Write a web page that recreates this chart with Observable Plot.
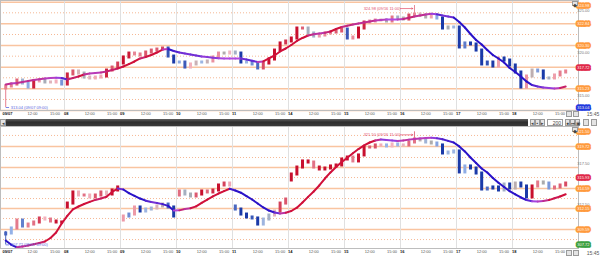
<!DOCTYPE html>
<html><head><meta charset="utf-8">
<script src="https://cdn.jsdelivr.net/npm/d3@7"></script>
<script src="https://cdn.jsdelivr.net/npm/@observablehq/plot@0.6"></script>
<style>
html,body{margin:0;padding:0;background:#fff;width:600px;height:257px;overflow:hidden;font-family:"Liberation Sans",Arial,sans-serif}
#wrap{position:relative;width:600px;height:257px}
.pane{position:absolute;left:0}
#top{top:0}#bot{top:126px}
#scroll{position:absolute;top:118px;left:0;width:600px;height:8px}
.ui{position:absolute;font-size:5px;line-height:6px;color:#444;text-align:center;box-sizing:border-box}
.btn{background:#e4e4e4;border:1px solid #9a9a9a}
</style></head><body>
<div id="wrap">
  <div id="top" class="pane"></div>
  <div id="scroll">
    <div class="ui btn" style="left:0;top:1px;width:6px;height:7px;">&#9666;</div>
    <div class="ui" style="left:6px;top:1px;width:522px;height:7px;background:linear-gradient(#606060,#2e2e2e 45%,#3a3a3a)"></div>
    <div class="ui btn" style="left:530px;top:1px;width:5px;height:7px;">&#9666;</div>
    <div class="ui btn" style="left:535px;top:1px;width:5px;height:7px;">&#9642;</div>
    <div class="ui btn" style="left:540px;top:1px;width:5px;height:7px;">&#9656;</div>
    <div class="ui" style="left:547px;top:1px;width:16px;height:7px;background:#fff;border:1px solid #999;text-align:right;padding-right:1px">200</div>
    <div class="ui btn" style="left:565px;top:1px;width:5px;height:7px;">&#9679;</div>
    <div class="ui btn" style="left:570px;top:1px;width:5px;height:7px;">&#9197;</div>
    <div class="ui btn" style="left:575px;top:1px;width:5px;height:7px;">&#9673;</div>
    <div class="ui btn" style="left:583px;top:1px;width:6px;height:7px;"></div>
    <div class="ui btn" style="left:591px;top:1px;width:6px;height:7px;"></div>
  </div>
  <div id="bot" class="pane"></div>
  <div class="ui btn" style="left:572px;top:1px;width:6px;height:5px;">&#9670;</div>
  <div class="ui btn" style="left:572px;top:127px;width:6px;height:5px;">&#9670;</div>
  <div class="ui btn" style="left:566px;top:111px;width:6px;height:6px;"></div>
  <div class="ui btn" style="left:573px;top:111px;width:6px;height:6px;"></div>
  <div class="ui" style="left:586px;top:111px;width:14px;height:6px;color:#555">15:45</div>
  <div class="ui btn" style="left:566px;top:250px;width:6px;height:6px;"></div>
  <div class="ui btn" style="left:573px;top:250px;width:6px;height:6px;"></div>
  <div class="ui" style="left:586px;top:250px;width:14px;height:6px;color:#555">15:45</div>
</div>
<script>
// ---------- data ----------
const dayStarts = [0, 11, 21, 31, 41, 51, 61, 71, 81, 91];
const dayLabels = ["09/07", "08", "09", "10", "11", "14", "15", "16", "17", "18"];
const timeTickPos = [5.3, 9.3, 15.5, 19.5, 25.5, 29.5, 35.5, 39.5, 45.5, 49.5, 55.5, 59.5, 65.5, 69.5, 75.5, 79.5, 85.5, 89.5, 95.5, 99.5];
const timeTickLabels = ["12:00", "15:00", "12:00", "15:00", "12:00", "15:00", "12:00", "15:00", "12:00", "15:00", "12:00", "15:00", "12:00", "15:00", "12:00", "15:00", "12:00", "15:00", "12:00", "15:00"];

const topClose = [315.50, 315.73, 316.20, 315.85, 315.38, 316.09, 316.20, 315.97, 315.97, 316.09, 315.73,
 316.91, 317.26, 317.02, 316.55, 316.44, 316.55, 316.67, 317.37, 317.72, 318.19,
 318.90, 319.36, 319.25, 319.13, 319.48, 319.71, 319.83, 319.95, 319.01, 318.31,
 318.31, 317.72, 318.08, 318.31, 318.31, 318.43, 318.90, 319.36, 319.36, 319.48,
 319.36, 318.31, 318.31, 318.08, 317.61, 318.19, 318.66, 319.71, 320.54, 320.77,
 321.12, 322.29, 322.29, 321.71, 321.35, 321.47, 321.71, 321.82, 321.94, 322.17,
 321.12, 321.24, 322.29, 322.99, 323.11, 323.23, 323.23, 323.11, 323.58, 323.46,
 323.34, 323.81, 323.93, 323.81, 323.58, 323.70, 323.46, 322.29, 322.41, 322.41,
 320.07, 320.54, 320.42, 319.71, 318.08, 318.31, 317.84, 318.78, 318.54, 317.96,
 317.14, 315.38, 316.67, 317.37, 317.26, 316.44, 316.44, 316.79, 317.14, 317.26];
const topMA = [315.73, 315.85, 315.91, 316.03, 316.14, 316.26, 316.35, 316.44, 316.49, 316.53, 316.49,
 316.32, 316.49, 316.67, 316.91, 317.02, 317.08, 317.14, 317.26, 317.43, 317.61,
 317.84, 318.13, 318.43, 318.78, 318.95, 319.19, 319.48, 319.83, 319.89, 319.66,
 319.48, 319.36, 319.25, 319.13, 319.01, 318.95, 318.87, 318.80, 318.78, 318.78,
 318.78, 318.78, 318.66, 318.51, 318.37, 318.43, 318.78, 319.13, 319.60, 319.95,
 320.36, 320.83, 321.18, 321.47, 321.61, 321.71, 321.79, 321.94, 322.23, 322.47,
 322.61, 322.76, 322.88, 322.99, 323.11, 323.23, 323.29, 323.34, 323.34, 323.34,
 323.40, 323.54, 323.70, 323.81, 323.93, 324.01, 323.97, 323.81, 323.70, 323.58,
 323.05, 322.41, 321.65, 320.94, 320.42, 319.77, 319.19, 318.78, 318.31, 317.67,
 317.20, 316.67, 316.09, 315.67, 315.50, 315.38, 315.32, 315.27, 315.32, 315.50];
const topGapOpens = [[0, 315.27]];
const topWicks = [[0, 313.04, 315.73], [73, 323.81, 324.98]];
const topSolid = [325.37, 322.84, 320.30, 317.76, 315.23, 312.69];
const topDotted = [324.13, 321.59, 319.05, 316.52, 313.98];
const topAxisTicks = [325, 320, 315];
const topBoxes = [324.98, 322.84, 320.30, 317.72, 315.23, 313.04];
const topBoxKinds = ["level", "level", "level", "last", "level", "low"];
const topHigh = {i: 73, p: 324.98, t: "09/16 11:00"};
const topLow = {i: 0, p: 313.04, t: "09/07 09:00"};

const botClose = [309.11, 309.72, 310.69, 309.96, 310.20, 310.45, 310.94, 310.81, 310.57, 310.45, 310.45,
 312.76, 314.11, 313.74, 313.74, 313.50, 313.74, 314.11, 313.86, 314.35, 314.72,
 311.18, 311.42, 312.28, 311.79, 312.03, 312.15, 312.40, 312.64, 312.28, 311.18,
 314.23, 313.86, 313.62, 313.86, 314.23, 314.11, 314.35, 314.96, 315.20, 314.96,
 312.03, 311.42, 311.06, 310.94, 310.20, 310.81, 311.30, 311.79, 312.76, 313.25,
 316.30, 317.15, 317.89, 317.76, 317.15, 316.91, 317.03, 317.28, 317.40, 318.13,
 318.37, 317.89, 318.62, 319.59, 319.59, 319.84, 319.84, 319.72, 319.96, 319.84,
 319.84, 320.20, 320.57, 320.45, 320.20, 320.08, 319.84, 318.86, 318.98, 319.11,
 316.55, 317.28, 317.03, 316.42, 314.47, 314.59, 314.72, 314.35, 315.08, 314.59,
 315.20, 314.84, 313.50, 314.84, 315.33, 315.20, 314.59, 314.72, 314.96, 315.20];
const botMA = [308.25, 307.73, 307.42, 307.52, 307.64, 307.79, 307.95, 308.13, 308.56, 309.23, 310.33,
 311.26, 312.06, 312.40, 312.70, 312.96, 313.20, 313.37, 313.58, 314.17, 314.59,
 314.47, 314.03, 313.69, 313.37, 313.11, 312.94, 312.83, 312.69, 312.48, 311.91,
 311.93, 312.09, 312.19, 312.42, 312.85, 313.25, 313.62, 313.98, 314.28, 314.56,
 314.35, 314.08, 313.67, 313.25, 312.76, 312.28, 311.91, 311.67, 311.54, 311.63,
 311.85, 312.25, 312.89, 313.57, 314.23, 314.96, 315.81, 316.55, 317.22, 317.83,
 318.33, 318.89, 319.40, 319.84, 320.20, 320.45, 320.57, 320.50, 320.45, 320.39,
 320.45, 320.55, 320.62, 320.69, 320.74, 320.79, 320.73, 320.59, 320.40, 320.20,
 319.72, 319.11, 318.37, 317.70, 317.03, 316.55, 315.87, 315.29, 314.78, 314.26,
 313.89, 313.50, 313.19, 313.03, 313.01, 313.06, 313.18, 313.41, 313.62, 313.89];
const botGapOpens = [[0, 308.99], [11, 312.28], [21, 310.69], [31, 313.74], [41, 312.40], [51, 315.57]];
const botWicks = [[0, 307.72, 309.35], [73, 320.45, 321.50]];
const botSolid = [319.72, 317.15, 314.59, 312.15, 309.59];
const botDotted = [321.06, 318.37, 315.93, 313.37, 310.94, 308.37];
const botAxisTicks = [317.5, 312.5];
const botBoxes = [321.50, 319.72, 315.93, 314.59, 312.15, 309.59, 307.72];
const botBoxKinds = ["level", "level", "last", "level", "level", "level", "low2"];
const botHigh = {i: 73, p: 321.50, t: "09/16 11:00"};
const botLow = {i: 0, p: 307.72, t: "09/07 09:00"};

// ---------- styling helpers ----------
const candleColor = d3.scaleLinear()
  .domain([-0.9, -0.2, -0.04, 0.12, 0.9])
  .range(["#1b3aa8", "#9ab6ea", "#ababab", "#f5b9c3", "#c8102e"])
  .clamp(true);
const maColor = d3.scaleLinear()
  .domain([-0.25, 0, 0.25])
  .range(["#2a12c8", "#b048e0", "#d0103a"])
  .clamp(true);
const boxColor = {level: "#ff9a3c", last: "#e0284a", low: "#2038e0", low2: "#3aa040"};
const FONT = "Liberation Sans, Arial, sans-serif";

function pane(cfg) {
  const gap = new Map(cfg.gapOpens);
  const rows = cfg.close.map((c, i) => {
    const o = gap.has(i) ? gap.get(i) : (i ? cfg.close[i - 1] : c);
    const s = i ? cfg.ma[i] - cfg.ma[i - 1] : cfg.ma[1] - cfg.ma[0];
    return {u: i + 0.5, o, c, col: candleColor(1.5 * s + 0.9 * (c - o))};
  });
  const wicks = cfg.wicks.map(([i, lo, hi]) => ({u: i + 0.5, lo, hi, col: rows[i].col}));
  const segs = cfg.ma.slice(1).map((m, k) => ({
    x1: k + 0.5, y1: cfg.ma[k], x2: k + 1.5, y2: m, col: maColor(m - cfg.ma[k])
  }));
  const days = dayStarts.map((u, k) => ({u, label: dayLabels[k]}));
  const times = timeTickPos.map((u, k) => ({u, label: timeTickLabels[k]}));
  const boxes = cfg.boxes.map((p, k) => ({p, col: boxColor[cfg.kinds[k]]}));
  return Plot.plot({
    width: 600, height: cfg.height,
    marginLeft: 0, marginRight: 22, marginTop: 0, marginBottom: cfg.height - cfg.frameH,
    style: {fontFamily: FONT, background: "transparent", overflow: "visible"},
    x: {domain: [-0.43, 102.79], axis: null},
    y: {domain: cfg.domain, axis: null},
    color: {type: "identity"},
    marks: [
      Plot.ruleY(cfg.dotted, {stroke: "#f6b894", strokeWidth: 1, strokeDasharray: "1,2"}),
      Plot.ruleY(cfg.solid, {stroke: "#f9c4a0", strokeWidth: 1.4}),
      Plot.ruleX(dayStarts.slice(1), {stroke: "#e0e0e0", strokeWidth: 1}),
      Plot.ruleX(wicks, {x: "u", y1: "lo", y2: "hi", stroke: "col", strokeWidth: 1}),
      Plot.ruleX(rows, {x: "u", y1: "o", y2: "c", stroke: "col", strokeWidth: 3, strokeLinecap: "square"}),
      Plot.link(segs, {x1: "x1", y1: "y1", x2: "x2", y2: "y2", stroke: "col", strokeWidth: 2, strokeLinecap: "round"}),
      Plot.text([cfg.high], {x: d => d.i + 0.5, y: "p", text: d => `${d.p.toFixed(2)} (${d.t})`,
        textAnchor: "end", dx: -14, dy: 3, fill: "#e4506a", fontSize: 4}),
      Plot.arrow([cfg.high], {x1: d => d.i - 2, x2: d => d.i + 0.2, y1: "p", y2: "p", dy: 3,
        stroke: "#e4506a", strokeWidth: 0.7, headLength: 2.5}),
      Plot.link([cfg.low], {x1: d => d.i + 0.5, x2: d => d.i + 1.1, y1: "p", y2: "p",
        stroke: "#5a64e0", strokeWidth: 0.8}),
      Plot.text([cfg.low], {x: d => d.i + 0.5, y: "p", text: d => `${d.p.toFixed(2)} (${d.t})`,
        textAnchor: "start", dx: 5, fill: "#5a64e0", fontSize: 4}),
      Plot.frame({stroke: "#bdbdbd"}),
      Plot.text(times, {x: "u", text: "label", frameAnchor: "bottom", dy: 4.5, fill: "#555", fontSize: 4}),
      Plot.text(days, {x: "u", text: "label", frameAnchor: "bottom", dy: 4.5, dx: -0.5, textAnchor: "start",
        fill: "#111", fontSize: 4, fontWeight: "bold"}),
      Plot.text(cfg.ticks, {y: d => d, text: d => d.toFixed(2), frameAnchor: "right", dx: 11, dy: cfg.tickDy,
        fill: "#777", fontSize: 4}),
      Plot.text(boxes, {y: "p", text: d => d.p.toFixed(2), frameAnchor: "right", dx: 11,
        fill: "#fff3e6", stroke: "col", strokeWidth: 3.5, fontSize: 4})
    ]
  });
}

document.getElementById("top").append(pane({
  close: topClose, ma: topMA, gapOpens: topGapOpens, wicks: topWicks,
  solid: topSolid, dotted: topDotted, ticks: topAxisTicks, tickDy: 5,
  boxes: topBoxes, kinds: topBoxKinds, high: topHigh, low: topLow,
  domain: [312.69, 325.57], height: 118, frameH: 110
}));
document.getElementById("bot").append(pane({
  close: botClose, ma: botMA, gapOpens: botGapOpens, wicks: botWicks,
  solid: botSolid, dotted: botDotted, ticks: botAxisTicks, tickDy: -1,
  boxes: botBoxes, kinds: botBoxKinds, high: botHigh, low: botLow,
  domain: [307.28, 322.15], height: 131, frameH: 122
}));
</script>
</body></html>
